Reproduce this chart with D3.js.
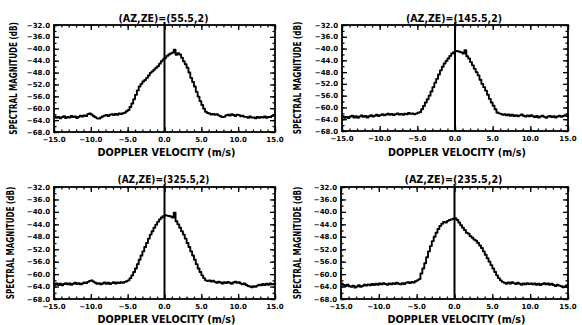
<!DOCTYPE html>
<html>
<head>
<meta charset="utf-8">
<script src="https://cdn.jsdelivr.net/npm/d3@7"></script>
<style>
  body { margin: 0; background: #fff; }
  text { font-family: "DejaVu Sans", sans-serif; font-weight: bold; fill: #000; }
</style>
</head>
<body>
<svg id="chart" width="582" height="325"></svg>
<script>
/* ---------------- data ---------------- */
// doppler bins: -15 .. 15 m/s, 0.25 m/s apart
const vStart = -15, vStep = 0.25;

const titles = ["(AZ,ZE)=(55.5,2)", "(AZ,ZE)=(145.5,2)", "(AZ,ZE)=(325.5,2)", "(AZ,ZE)=(235.5,2)"];

const spec055 = [
  -62.8, -63.2, -62.9, -63.4, -63.0, -62.7, -63.3, -62.9, -63.1, -62.6, -63.0, -62.8, -63.3, -62.9, -62.5, -62.8, -62.4, -62.6, -62.0, -61.8, -62.1,
  -62.6, -63.0, -63.4, -63.5, -63.1, -62.8, -62.5, -62.3, -62.6, -62.2, -62.0, -62.3, -61.9, -62.2, -61.8, -62.0, -61.7, -61.5, -61.0, -60.6,
  -59.6, -58.4, -57.0, -55.5, -54.0, -52.7, -51.8, -51.0, -50.5, -49.8, -49.0, -48.1, -47.6, -47.0, -46.4, -45.9, -45.0, -44.2, -43.6, -43.0,
  -42.4, -41.9, -41.6, -41.3, -40.3, -42.0, -41.5, -41.9, -43.0, -44.2, -45.2, -46.4, -48.0, -49.8, -51.2, -52.7, -54.5, -56.1, -57.6, -58.9,
  -60.2, -61.2, -61.6, -61.8, -62.1, -61.9, -62.2, -62.0, -62.4, -62.7, -63.0, -62.9, -62.4, -62.2, -62.5, -62.0, -62.3, -62.6, -62.2, -62.3,
  -62.7, -62.5, -62.9, -62.9, -63.2, -62.8, -63.1, -63.1, -63.4, -62.9, -63.2, -62.9, -63.1, -62.8, -63.2, -62.9, -63.0, -62.6, -62.3, -62.0
];

const spec145 = [
  -63.0, -63.5, -63.2, -63.6, -63.1, -62.8, -63.4, -63.0, -63.5, -63.1, -62.7, -63.2, -62.9, -63.4, -63.0, -62.6, -63.1, -62.8, -62.5, -62.9, -62.6,
  -62.3, -62.7, -62.4, -62.1, -62.5, -62.2, -62.6, -62.3, -62.0, -62.4, -62.2, -62.5, -62.1, -62.3, -61.9, -62.2, -62.0, -62.3, -62.1, -61.8,
  -61.6, -60.6, -59.5, -58.3, -57.2, -56.0, -54.6, -53.1, -51.6, -50.3, -48.8, -47.4, -46.2, -45.1, -44.2, -43.4, -42.5, -41.7, -41.2, -40.8,
  -40.9, -41.1, -41.3, -41.7, -40.6, -42.6, -43.4, -44.6, -45.7, -46.9, -48.0, -49.1, -50.6, -52.0, -53.1, -54.3, -55.7, -57.1, -58.3, -59.4,
  -60.6, -61.7, -62.0, -62.2, -62.5, -62.3, -62.7, -62.4, -62.8, -62.5, -62.9, -62.6, -63.0, -62.7, -62.4, -62.8, -63.1, -62.7, -63.0, -62.6,
  -63.0, -63.3, -62.9, -63.4, -63.1, -62.8, -63.2, -63.5, -63.1, -62.9, -63.3, -63.0, -63.4, -63.1, -62.8, -63.2, -62.9, -62.6, -62.9, -62.5
];

const spec325 = [
  -63.4, -63.0, -63.5, -63.1, -63.6, -63.2, -62.9, -63.3, -63.0, -63.4, -63.1, -62.8, -63.2, -62.9, -63.3, -63.0, -62.7, -62.9, -62.5, -62.2, -62.0,
  -62.4, -62.8, -63.1, -62.9, -63.3, -63.0, -62.7, -63.1, -62.8, -63.2, -62.9, -62.6, -63.0, -62.7, -62.9, -62.6, -62.8, -62.5, -62.3, -62.0,
  -61.3, -60.4, -59.3, -58.2, -56.8, -55.4, -54.0, -52.7, -51.3, -50.0, -48.6, -47.3, -46.2, -45.1, -44.1, -43.2, -42.4, -41.8, -41.4, -41.1,
  -41.2, -41.3, -41.5, -41.8, -40.3, -43.0, -44.0, -45.1, -46.2, -47.3, -48.6, -50.0, -51.3, -52.7, -54.0, -55.4, -56.8, -58.2, -59.3, -60.4,
  -61.3, -62.0, -62.2, -62.0, -62.4, -62.1, -62.5, -62.8, -62.4, -62.7, -63.0, -62.6, -62.9, -62.5, -62.8, -63.1, -62.7, -62.4, -62.8, -62.6,
  -63.0, -63.3, -63.0, -63.5, -63.8, -64.0, -64.2, -63.9, -64.1, -63.7, -63.4, -63.6, -63.2, -63.5, -63.1, -63.4, -63.0, -63.3, -63.2, -63.1
];

const spec235 = [
  -63.1, -63.5, -63.8, -63.4, -63.9, -64.1, -63.7, -64.3, -64.0, -63.6, -64.1, -63.8, -63.4, -63.7, -63.3, -63.6, -63.2, -63.5, -63.1, -63.4, -63.0,
  -63.3, -62.9, -63.2, -63.4, -63.0, -63.3, -62.9, -63.2, -62.8, -63.1, -63.3, -62.9, -63.2, -62.8, -62.6, -62.9, -62.5, -62.7, -62.3, -62.0,
  -61.6, -59.8, -58.2, -56.5, -54.6, -52.7, -51.0, -49.4, -48.0, -46.7, -45.5, -44.5, -43.8, -43.2, -43.4, -42.9, -42.6, -42.4, -42.2, -42.0,
  -42.6, -43.4, -44.3, -45.1, -45.8, -46.7, -47.0, -47.8, -48.3, -48.9, -49.3, -50.0, -50.8, -51.6, -52.7, -53.8, -54.9, -56.0, -57.1, -58.2,
  -59.3, -60.4, -61.3, -62.0, -62.5, -62.8, -63.1, -62.7, -63.0, -62.6, -62.9, -63.2, -62.8, -63.1, -63.4, -63.0, -63.3, -62.9, -63.2, -63.0,
  -63.3, -63.0, -63.4, -63.1, -63.5, -63.2, -62.9, -63.3, -63.0, -63.4, -63.1, -63.5, -63.8, -63.4, -63.7, -63.9, -64.2, -64.0, -63.6, -63.3
];

const xTicks = [-15, -10, -5, 0, 5, 10, 15];
const yTicks = [-32, -36, -40, -44, -48, -52, -56, -60, -64, -68];
const xLabel = "DOPPLER VELOCITY (m/s)";
const yLabel = "SPECTRAL MAGNITUDE (dB)";

/* ---------------- layout ---------------- */
const panels = [
  { series: spec055, title: titles[0], x0: 54,  x1: 275, y0: 25,  y1: 132, titleY: 22,  xlabY: 156, ylabX: 13,  tw: 90 },
  { series: spec145, title: titles[1], x0: 342, x1: 568, y0: 25,  y1: 131, titleY: 22,  xlabY: 156, ylabX: 297, tw: 96 },
  { series: spec325, title: titles[2], x0: 54,  x1: 275, y0: 187, y1: 299, titleY: 183, xlabY: 323, ylabX: 10,  tw: 92 },
  { series: spec235, title: titles[3], x0: 341, x1: 568, y0: 187, y1: 299, titleY: 183, xlabY: 323, ylabX: 297, tw: 98 }
];

const svg = d3.select("#chart");

panels.forEach(function (p) {
  const x = d3.scaleLinear().domain([-15, 15]).range([p.x0, p.x1]);
  const y = d3.scaleLinear().domain([-68, -32]).range([p.y1, p.y0]);
  const g = svg.append("g");

  // minor + major ticks, all pointing inward, on every side
  const xMinor = d3.range(-15, 15.01, 1);
  const yMinor = d3.range(-68, -31.99, 2);

  g.append("g").attr("transform", `translate(0,${p.y1})`)
    .call(d3.axisTop(x).tickValues(xMinor).tickSize(2.5).tickFormat(""));
  g.append("g").attr("transform", `translate(0,${p.y0})`)
    .call(d3.axisBottom(x).tickValues(xMinor).tickSize(2.5).tickFormat(""));
  g.append("g").attr("transform", `translate(0,${p.y1})`)
    .call(d3.axisTop(x).tickValues(xTicks).tickSize(5).tickFormat(""));
  g.append("g").attr("transform", `translate(0,${p.y0})`)
    .call(d3.axisBottom(x).tickValues(xTicks).tickSize(5).tickFormat(""));

  g.append("g").attr("transform", `translate(${p.x0},0)`)
    .call(d3.axisRight(y).tickValues(yMinor).tickSize(2.5).tickFormat(""));
  g.append("g").attr("transform", `translate(${p.x1},0)`)
    .call(d3.axisLeft(y).tickValues(yMinor).tickSize(2.5).tickFormat(""));
  g.append("g").attr("transform", `translate(${p.x0},0)`)
    .call(d3.axisRight(y).tickValues(yTicks).tickSize(5).tickFormat(""));
  g.append("g").attr("transform", `translate(${p.x1},0)`)
    .call(d3.axisLeft(y).tickValues(yTicks).tickSize(5).tickFormat(""));

  g.selectAll(".domain").remove();
  g.selectAll(".tick line").attr("stroke", "#000").attr("stroke-width", 1.3);

  // tick labels
  g.selectAll(".xt").data(xTicks).enter().append("text")
    .attr("x", d => x(d)).attr("y", p.y1 + 9.5)
    .attr("text-anchor", "middle").style("font-size", "7px")
    .text(d => d3.format(".1f")(d));
  g.selectAll(".yt").data(yTicks).enter().append("text")
    .attr("x", p.x0 - 4).attr("y", d => y(d) + 2.5)
    .attr("text-anchor", "end").style("font-size", "7px")
    .text(d => d3.format(".1f")(d));

  // spectrum
  const line = d3.line()
    .x((d, i) => x(vStart + i * vStep))
    .y(d => y(d))
    .curve(d3.curveStepAfter);
  g.append("path").datum(p.series)
    .attr("d", line)
    .attr("fill", "none").attr("stroke", "#000")
    .attr("stroke-width", 1.9).attr("stroke-linejoin", "round");

  // zero velocity marker
  g.append("line")
    .attr("x1", x(0)).attr("x2", x(0))
    .attr("y1", p.y0 - 3).attr("y2", p.y1)
    .attr("stroke", "#000").attr("stroke-width", 2);

  // frame
  g.append("rect")
    .attr("x", p.x0).attr("y", p.y0)
    .attr("width", p.x1 - p.x0).attr("height", p.y1 - p.y0)
    .attr("fill", "none").attr("stroke", "#000").attr("stroke-width", 1.8);

  // titles
  g.append("text")
    .attr("x", (p.x0 + p.x1) / 2 - 1).attr("y", p.titleY)
    .attr("text-anchor", "middle").style("font-size", "10.5px")
    .attr("textLength", p.tw).attr("lengthAdjust", "spacingAndGlyphs")
    .text(p.title);
  g.append("text")
    .attr("x", (p.x0 + p.x1) / 2 + 2).attr("y", p.xlabY)
    .attr("text-anchor", "middle").style("font-size", "10px")
    .attr("textLength", 138).attr("lengthAdjust", "spacingAndGlyphs")
    .text(xLabel);
  // condensed glyphs: small font, stretched across the line height
  g.append("text")
    .attr("transform", `translate(${p.ylabX + 4},${(p.y0 + p.y1) / 2}) rotate(-90) scale(1,1.35)`)
    .attr("text-anchor", "middle").style("font-size", "7.2px")
    .text(yLabel);
});
</script>
</body>
</html>
